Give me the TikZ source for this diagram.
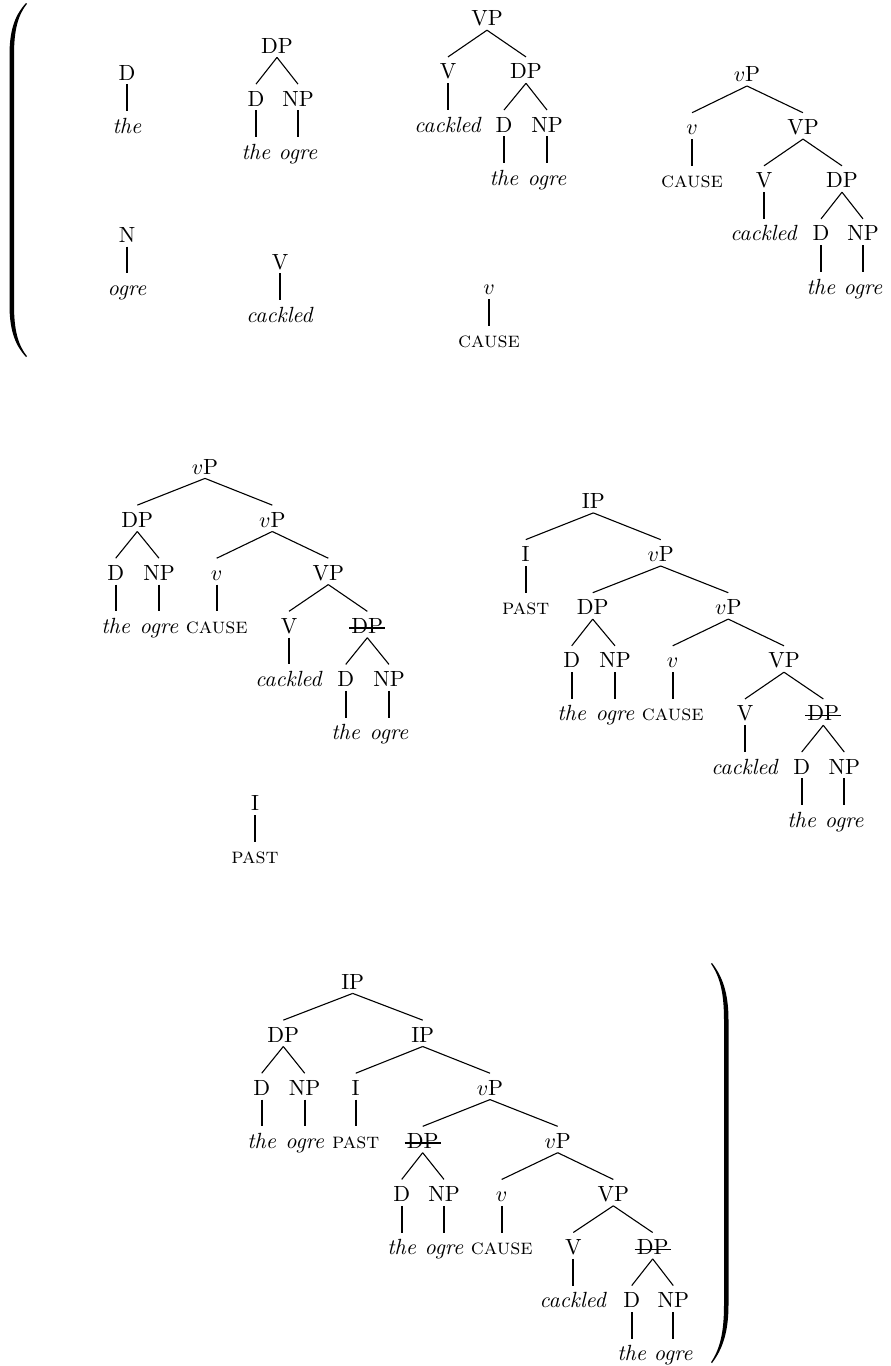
\documentclass[tikz,border=0pt]{standalone}
\begin{document}
\begin{tikzpicture}[x=0.455pt,y=-0.455pt,
  lab/.style={anchor=base, inner xsep=0pt, inner ysep=2pt, outer sep=0pt, text height=8pt, text depth=0pt},
  br/.style={line width=0.5pt, line cap=butt},
  un/.style={line width=0.75pt, line cap=butt},
  strk/.style={line width=0.55pt}]
\useasboundingbox (0,0) rectangle (890,1366);
% ---------- left parenthesis
\fill (26,3) .. controls (16,14) and (9.5,28) .. (9.5,55) -- (9.5,305) .. controls (9.5,332) and (16,346) .. (26,357)
  -- (27,356.3) .. controls (18,345) and (14,330) .. (14,305) -- (14,55) .. controls (14,30) and (18,15) .. (27,3.7) -- cycle;
% ---------- right parenthesis
\fill (712,963) .. controls (722,976) and (728.5,992) .. (728.5,1020) -- (728.5,1305) .. controls (728.5,1333) and (722,1350) .. (712,1363)
  -- (711,1362.3) .. controls (720,1349) and (724,1332) .. (724,1305) -- (724,1020) .. controls (724,993) and (720,977) .. (711,963.7) -- cycle;
% ---------- tree A
\node[lab] (a1) at (127,80) {D};
\node[lab] (a2) at (127,133.1) {\textit{the}};
% ---------- tree B
\node[lab] (b1) at (277,53) {DP};
\node[lab] (b2) at (256,106.1) {D};
\node[lab] (b3) at (298,106.1) {NP};
\node[lab] (b4) at (256,159.2) {\textit{the}};
\node[lab] (b5) at (298,159.2) {\textit{ogre}};
% ---------- tree C
\node[lab] (c1) at (487,25.8) {VP};
\node[lab] (c2) at (448,78.9) {V};
\node[lab] (c3) at (526,78.9) {DP};
\node[lab] (c4) at (448,132) {\textit{cackled}};
\node[lab] (c5) at (504,132) {D};
\node[lab] (c6) at (547,132) {NP};
\node[lab] (c7) at (504,185.1) {\textit{the}};
\node[lab] (c8) at (547,185.1) {\textit{ogre}};
% ---------- tree D
\node[lab] (d1) at (747,81.6) {$v$P};
\node[lab] (d2) at (692,134.7) {$v$};
\node[lab] (d3) at (803,134.7) {VP};
\node[lab] (d4) at (692,187.8) {\textsc{cause}};
\node[lab] (d5) at (764,187.8) {V};
\node[lab] (d6) at (842,187.8) {DP};
\node[lab] (d7) at (764,240.9) {\textit{cackled}};
\node[lab] (d8) at (821,240.9) {D};
\node[lab] (d9) at (863,240.9) {NP};
\node[lab] (d10) at (821,294) {\textit{the}};
\node[lab] (d11) at (863,294) {\textit{ogre}};
% ---------- trees E F G
\node[lab] (e1) at (127,242.3) {N};
\node[lab] (e2) at (127,295.4) {\textit{ogre}};
\node[lab] (f1) at (280,269) {V};
\node[lab] (f2) at (280,322.1) {\textit{cackled}};
\node[lab] (g1) at (489,294.6) {$v$};
\node[lab] (g2) at (489,347.7) {\textsc{cause}};
% ---------- tree H
\node[lab] (h1) at (205,474) {$v$P};
\node[lab] (h2) at (137.3,527.1) {DP};
\node[lab] (h3) at (272.3,527.1) {$v$P};
\node[lab] (h4) at (115.7,580.2) {D};
\node[lab] (h5) at (159,580.2) {NP};
\node[lab] (h6) at (216.7,580.2) {$v$};
\node[lab] (h7) at (328.3,580.2) {VP};
\node[lab] (h8) at (115.7,633.3) {\textit{the}};
\node[lab] (h9) at (159,633.3) {\textit{ogre}};
\node[lab] (h10) at (216.7,633.3) {\textsc{cause}};
\node[lab] (h11) at (289,633.3) {V};
\node[lab] (h12) at (367.3,633.3) {DP};
\node[lab] (h13) at (289,686.4) {\textit{cackled}};
\node[lab] (h14) at (345.7,686.4) {D};
\node[lab] (h15) at (389,686.4) {NP};
\node[lab] (h16) at (345.7,739.5) {\textit{the}};
\node[lab] (h17) at (389,739.5) {\textit{ogre}};
% ---------- tree I
\node[lab] (i1) at (255,810.6) {I};
\node[lab] (i2) at (255,863.7) {\textsc{past}};
% ---------- tree J
\node[lab] (j1) at (593.3,508.5) {IP};
\node[lab] (j2) at (525.7,561.6) {I};
\node[lab] (j3) at (660.7,561.6) {$v$P};
\node[lab] (j4) at (525.7,614.7) {\textsc{past}};
\node[lab] (j5) at (592.7,614.7) {DP};
\node[lab] (j6) at (728.3,614.7) {$v$P};
\node[lab] (j7) at (571.7,667.8) {D};
\node[lab] (j8) at (615,667.8) {NP};
\node[lab] (j9) at (672.7,667.8) {$v$};
\node[lab] (j10) at (784,667.8) {VP};
\node[lab] (j11) at (571.7,720.9) {\textit{the}};
\node[lab] (j12) at (615,720.9) {\textit{ogre}};
\node[lab] (j13) at (672.7,720.9) {\textsc{cause}};
\node[lab] (j14) at (745,720.9) {V};
\node[lab] (j15) at (823.3,720.9) {DP};
\node[lab] (j16) at (745,774) {\textit{cackled}};
\node[lab] (j17) at (801.7,774) {D};
\node[lab] (j18) at (844.3,774) {NP};
\node[lab] (j19) at (801.7,827.1) {\textit{the}};
\node[lab] (j20) at (844.3,827.1) {\textit{ogre}};
% ---------- tree K
\node[lab] (k1) at (352.7,989) {IP};
\node[lab] (k2) at (283.3,1042.1) {DP};
\node[lab] (k3) at (422.7,1042.1) {IP};
\node[lab] (k4) at (261.7,1095.2) {D};
\node[lab] (k5) at (304.7,1095.2) {NP};
\node[lab] (k6) at (355.7,1095.2) {I};
\node[lab] (k7) at (490,1095.2) {$v$P};
\node[lab] (k8) at (261.7,1148.3) {\textit{the}};
\node[lab] (k9) at (304.7,1148.3) {\textit{ogre}};
\node[lab] (k10) at (355.7,1148.3) {\textsc{past}};
\node[lab] (k11) at (422.7,1148.3) {DP};
\node[lab] (k12) at (557.7,1148.3) {$v$P};
\node[lab] (k13) at (401.7,1201.4) {D};
\node[lab] (k14) at (444,1201.4) {NP};
\node[lab] (k15) at (501.7,1201.4) {$v$};
\node[lab] (k16) at (613.3,1201.4) {VP};
\node[lab] (k17) at (401.7,1254.5) {\textit{the}};
\node[lab] (k18) at (444,1254.5) {\textit{ogre}};
\node[lab] (k19) at (501.7,1254.5) {\textsc{cause}};
\node[lab] (k20) at (573.3,1254.5) {V};
\node[lab] (k21) at (652.7,1254.5) {DP};
\node[lab] (k22) at (573.3,1307.6) {\textit{cackled}};
\node[lab] (k23) at (631.7,1307.6) {D};
\node[lab] (k24) at (673.3,1307.6) {NP};
\node[lab] (k25) at (631.7,1360.7) {\textit{the}};
\node[lab] (k26) at (673.3,1360.7) {\textit{ogre}};
% ---------- binary branches
\foreach \p/\c in {b1/b2, b1/b3,
  c1/c2, c1/c3, c3/c5, c3/c6,
  d1/d2, d1/d3, d3/d5, d3/d6, d6/d8, d6/d9,
  h1/h2, h1/h3, h2/h4, h2/h5, h3/h6, h3/h7, h7/h11, h7/h12, h12/h14, h12/h15,
  j1/j2, j1/j3, j3/j5, j3/j6, j5/j7, j5/j8, j6/j9, j6/j10, j10/j14, j10/j15, j15/j17, j15/j18,
  k1/k2, k1/k3, k2/k4, k2/k5, k3/k6, k3/k7, k7/k11, k7/k12,
  k11/k13, k11/k14, k12/k15, k12/k16, k16/k20, k16/k21, k21/k23, k21/k24}
  \draw[br] (\p.south) -- (\c.north);
% ---------- unary branches
\foreach \p/\c in {a1/a2, b2/b4, b3/b5, c2/c4, c5/c7, c6/c8,
  d2/d4, d5/d7, d8/d10, d9/d11, e1/e2, f1/f2, g1/g2,
  h4/h8, h5/h9, h6/h10, h11/h13, h14/h16, h15/h17, i1/i2,
  j2/j4, j7/j11, j8/j12, j9/j13, j14/j16, j17/j19, j18/j20,
  k4/k8, k5/k9, k6/k10, k13/k17, k14/k18, k15/k19, k20/k22, k23/k25, k24/k26}
  \draw[un] (\p.south) -- (\c.north);
% ---------- strike-throughs
\foreach \s in {h12, j15, k11, k21}
  \draw[strk] ([xshift=-1pt,yshift=2.4pt]\s.base west) -- ([xshift=1pt,yshift=2.4pt]\s.base east);
\end{tikzpicture}
\end{document}
